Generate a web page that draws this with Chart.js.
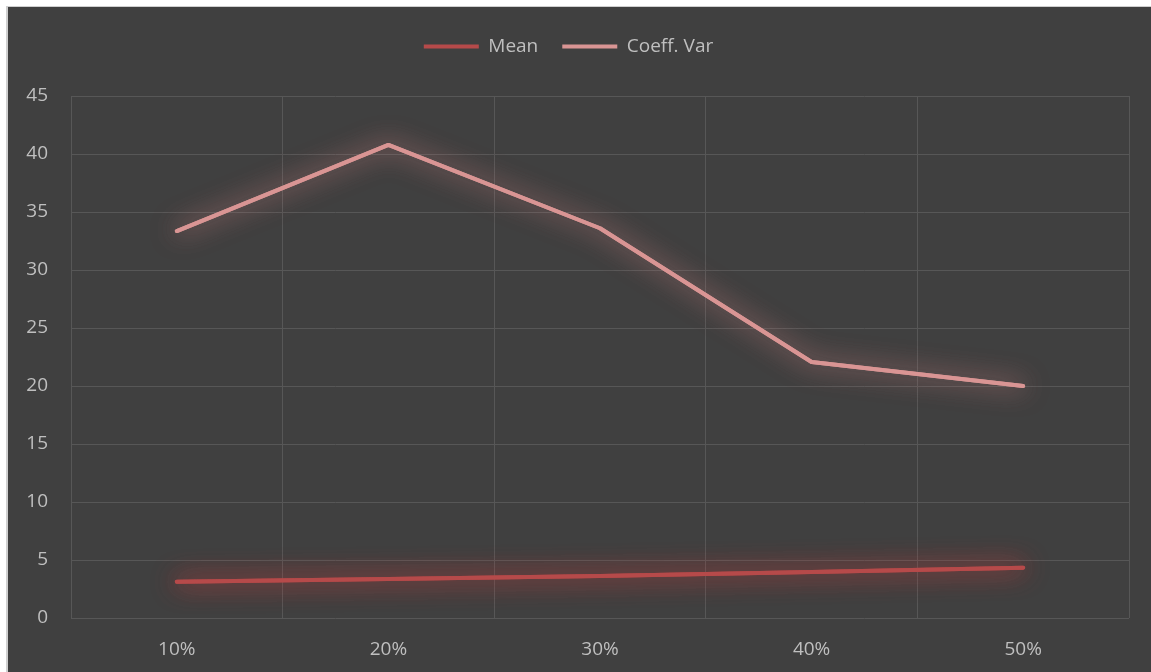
<!DOCTYPE html>
<html>
<head>
<meta charset="utf-8">
<script src="https://cdn.jsdelivr.net/npm/chart.js@4/dist/chart.umd.min.js"></script>
<style>
  html, body { margin: 0; padding: 0; background: #ffffff; overflow: hidden; }
  #frame {
    position: absolute; left: 6px; top: 6px;
    border-left: 2px solid #cfcfcf; border-top: 1px solid #cfcfcf;
    width: 1143px; height: 665px; background: #404040;
  }
  canvas { display: block; }
</style>
</head>
<body>
<div id="frame"><canvas id="c" width="1143" height="665"></canvas></div>
<script>
// Sample shares along the x axis
const categories = ['10%', '20%', '30%', '40%', '50%'];
// Series values
const meanValues = [3.13, 3.36, 3.62, 3.97, 4.34];
const coeffVarValues = [33.36, 40.78, 33.6, 22.07, 20.0];
// Y axis range
const yMin = 0;
const yMax = 45;
const yStep = 5;

const MEAN_COLOR = '#b64a4a';
const CV_COLOR = '#d99594';
const TEXT_COLOR = '#bfbfbf';
const GRID_COLOR = '#575757';
const FONT = { family: "'Open Sans', 'Noto Sans', sans-serif", size: 19 };

// Soft coloured halo around each line: an extra blurred pass under the normal stroke
const glowPlugin = {
  id: 'glow',
  beforeDatasetDraw(chart, args) {
    const ds = chart.data.datasets[args.index];
    const ctx = chart.ctx;
    ctx.save();
    ctx.shadowColor = ds.glowColor;
    ctx.shadowBlur = 26;
    ctx.shadowOffsetX = 0;
    ctx.shadowOffsetY = 0;
    args.meta.dataset.draw(ctx, chart.chartArea);
  },
  afterDatasetDraw(chart) {
    chart.ctx.restore();
  }
};

// Extra room under the legend
const legendSpacing = {
  id: 'legendSpacing',
  beforeInit(chart) {
    const origFit = chart.legend.fit;
    chart.legend.fit = function () {
      origFit.bind(chart.legend)();
      this.height += 30;
    };
  }
};

new Chart(document.getElementById('c'), {
  type: 'line',
  data: {
    labels: categories,
    datasets: [
      {
        label: 'Mean',
        data: meanValues,
        borderColor: MEAN_COLOR,
        backgroundColor: MEAN_COLOR,
        glowColor: 'rgba(200, 60, 60, 0.9)',
        borderWidth: 4,
        borderCapStyle: 'round',
        borderJoinStyle: 'round',
        pointRadius: 0,
        tension: 0
      },
      {
        label: 'Coeff. Var',
        data: coeffVarValues,
        borderColor: CV_COLOR,
        backgroundColor: CV_COLOR,
        glowColor: 'rgba(220, 135, 135, 0.6)',
        borderWidth: 4,
        borderCapStyle: 'round',
        borderJoinStyle: 'round',
        pointRadius: 0,
        tension: 0
      }
    ]
  },
  options: {
    responsive: false,
    animation: false,
    layout: { padding: { top: 6, right: 22, left: 0, bottom: 0 } },
    plugins: {
      tooltip: { enabled: false },
      legend: {
        position: 'top',
        labels: {
          color: TEXT_COLOR,
          font: FONT,
          boxWidth: 55,
          boxHeight: 4,
          padding: 24,
          generateLabels(chart) {
            return chart.data.datasets.map((ds, i) => ({
              text: ds.label,
              fillStyle: ds.borderColor,
              strokeStyle: ds.borderColor,
              lineWidth: 0,
              fontColor: TEXT_COLOR,
              datasetIndex: i,
              hidden: false
            }));
          }
        }
      }
    },
    scales: {
      x: {
        offset: true,
        grid: { color: GRID_COLOR, lineWidth: 1, drawTicks: false, offset: true },
        border: { display: false },
        ticks: { color: TEXT_COLOR, font: FONT, padding: 20 },
        afterFit(scale) { scale.height = 54; }
      },
      y: {
        min: yMin,
        max: yMax,
        grid: { color: GRID_COLOR, lineWidth: 1, drawTicks: false },
        border: { display: false },
        ticks: { stepSize: yStep, color: TEXT_COLOR, font: FONT, padding: 23 },
        afterFit(scale) { scale.width = 63; }
      }
    }
  },
  plugins: [glowPlugin, legendSpacing]
});
</script>
</body>
</html>
